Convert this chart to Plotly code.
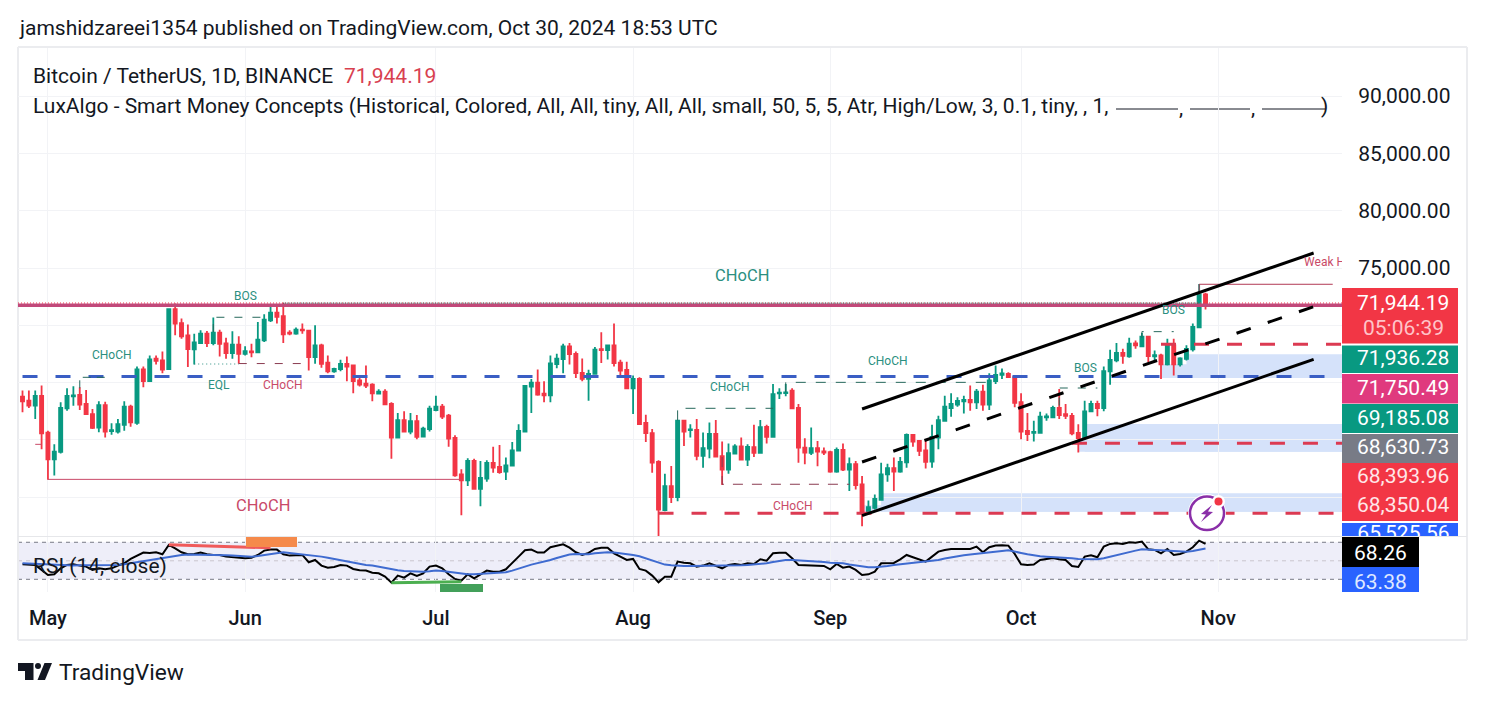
import pandas as pd
import plotly.graph_objects as go

W, H = 1485, 702

dates = pd.date_range("2024-04-27", "2024-10-30", freq="D")

opens = [63770,63420,62980,63830,
60640,58300,58950,62750,63800,63920,63130,62250,61080,63040,60760,60730,61320,62890,61490,66140,65120,67080,66930,66170,71400,70180,69120,67900,68450,69270,68450,69360,68420,67570,68300,
67510,67720,67630,68680,70440,71110,70790,69360,69270,69620,69530,67220,68250,66730,65970,66170,66640,66490,65180,64910,64820,64040,64210,63130,60200,61730,60730,61640,60290,60940,
62600,62890,62110,60180,56990,56460,58160,55730,56610,57980,57630,57220,57750,59060,60730,64650,65000,64040,63890,66610,67050,68160,67510,65850,65320,65760,67920,67840,68250,66730,66110,
64500,65320,61490,60590,58070,53860,55970,55000,61670,60850,60880,58600,59240,60530,58570,57400,58800,59440,58280,59360,58860,61140,60260,64060,64090,64300,62780,59330,58860,59270,59000,
58920,57220,59120,57400,57870,56110,53770,54060,54770,56990,57540,57220,58040,60440,59910,59090,58100,60200,61670,62780,63070,63360,63480,63280,64210,63070,65120,65670,65760,65470,
63300,60790,60610,60610,61960,61960,62780,62250,62100,60610,60150,62490,63130,62780,65970,66930,67600,67280,68420,68160,69010,67280,67370,66580,68250,66580,67080,67900,69830,72690]
highs = [64300,64300,64300,64740,
60790,59620,63280,64500,64680,64590,64360,62690,63360,63330,61460,61810,63360,63070,66400,66400,67370,67370,67720,71460,71900,70590,70060,69270,69560,69500,70670,69620,68920,69470,69040,
68160,68390,70290,70970,71610,71610,71960,69560,69800,70150,69560,70000,68390,67370,66290,66990,67280,66490,65530,66490,64940,64420,64420,63280,62340,62490,62340,62160,61140,62980,
63860,63130,62250,60410,57430,58390,58360,58160,58220,59390,59560,58450,59820,61370,64770,65320,66140,65120,67370,67510,68390,68450,67720,67110,66110,68100,69390,68300,70150,66990,66810,
65610,65470,62190,60940,58220,57050,57720,61730,61670,61370,61810,60640,61520,61730,59850,59680,59620,60200,59620,61320,61730,61320,64880,64500,64880,64500,63130,60150,61080,59910,59330,
59040,59330,59680,58450,58160,56840,54710,55230,58010,57920,58450,58510,60560,60500,59970,60060,61320,62110,63860,64060,63710,63860,64740,64440,64800,65820,66490,66230,65910,65610,
64060,62340,61670,62460,62310,62980,64440,63130,62340,61370,63420,63420,63420,66400,67870,68450,67950,68920,68680,69330,69040,67810,67520,68830,68830,67220,68250,70150,73600,72840]
lows = [62400,62780,61810,59180,
56520,56900,58800,62540,62980,62600,62190,60940,60670,60200,60440,60560,60790,61140,61320,64590,65120,66580,65820,66110,69120,68830,66350,66580,68390,68100,68250,67280,67080,67080,66640,
67370,67220,67600,68540,70290,70150,68450,69120,69180,69270,66050,66640,66290,65820,65850,65990,65120,64060,64650,64530,63360,63950,63040,58360,60150,60640,60500,60060,60200,60730,
62490,61810,59390,56780,53420,55970,55670,54210,56350,57130,57050,56490,57720,59040,60670,62340,63860,63280,63280,66260,65820,66580,65410,65120,63420,65700,66700,67020,66400,65610,64500,
62250,61290,59820,57130,51500,53770,54500,54650,59470,60200,58220,57570,58390,58450,56050,57050,58740,58220,57720,58510,58800,59680,60260,63570,63800,62690,58010,57870,58680,57690,58680,
57130,57130,57280,55530,55670,52460,53480,53920,54710,56350,55530,57130,57570,59390,58600,57510,57570,59180,61580,62020,62890,62310,62540,62690,62540,62600,64880,65320,65470,62840,
60060,59910,59850,60560,61670,61900,61810,61810,60410,58890,60060,62400,62050,62490,64800,66780,66640,67160,67950,68100,66780,66870,65320,66490,65610,66400,66930,67720,69800,71370]
closes = [63360,62980,63830,60560,
58300,58980,62780,63830,63890,63070,62250,61050,63040,60730,60850,61370,62890,61520,66140,65120,67020,66900,66140,71400,70150,69040,67920,68510,69270,68450,69360,68390,67570,68300,67510,
67750,67630,68740,70500,71110,70730,69210,69270,69620,69560,67220,68250,66640,65990,66200,66640,66400,65120,64820,64740,64060,64210,63100,60200,61730,60730,61640,60260,60970,62720,
62890,62020,60120,56900,56460,58160,55730,56670,57980,57570,57190,57780,59090,60790,64710,65000,63950,63890,66670,67080,68160,67490,65820,65320,65760,67870,67840,68250,66700,66050,64500,
65320,61370,60590,58010,53920,55970,55000,61670,60730,60910,58600,59270,60530,58540,57400,58830,59440,58280,59390,58860,61110,60260,64000,64120,64150,62750,59330,58890,59270,58980,58890,
57220,59120,57400,57870,56050,53770,54120,54850,56990,57540,57220,58070,60440,59850,59040,58070,60260,61730,62890,63130,63390,63480,63280,64210,63070,65180,65670,65790,65470,63220,
60730,60500,60700,62020,62050,62780,62160,62100,60560,60150,62490,63130,62780,65990,66990,67600,67340,68390,68250,69010,67310,67400,66580,68250,66580,67110,67950,69850,72690,71944.19]

rsi = [46.2,45.5,45.5,40.1,
34.7,35.4,41.9,45.5,46.2,44.8,43.7,40.1,41.9,40.8,41.9,44.8,47.3,52,55.6,58.9,58.5,59.2,57,67.1,63.5,59.2,57,57.4,58.9,57,56.3,56.3,54.5,53.8,52.7,
52.7,53.4,56.3,61,62.1,62.1,57,55.6,55.6,56.3,48.4,50.9,44.8,42.6,43.4,45.5,44.8,41.2,39.8,39.4,37.2,36.5,32.9,26.4,34,31.8,36.5,33.6,36.5,43.7,
44.8,41.9,35.4,30.4,28.6,35.4,31.1,35.4,39.4,38.3,38.3,40.8,47.3,54.5,61.4,62.1,58.9,58.9,64.6,66,67.8,64.2,59.2,56.3,58.5,62.8,64.2,64.2,58.1,54.5,50.9,
52,41.2,39.4,34,26.8,32.9,32.9,49.1,48,47.3,43.7,44.8,47.3,44.4,41.9,45.5,46.6,45.5,47.3,46.6,51.6,50.2,58.1,58.8,58.8,52.7,45.5,45.2,45.2,45.2,44.4,
40.8,46.6,42.6,43.7,40.1,34.7,35.4,38.3,47.3,47.7,47.7,51.6,56.3,53.8,51.6,49.1,54.5,59.9,61.7,62.8,62.8,63.2,62.8,65.3,59.2,64.6,66.4,66.8,66.4,57.4,
46.2,45.5,45.9,50.9,51.6,53.1,51.6,50.9,44.4,43.4,54.5,56,53.8,65.3,68.2,68.9,68.2,70,69.6,70.7,62.4,61.7,58.1,62.8,56.3,57.4,59.9,64.6,71.8,68.26]
rsi_ma = [47.3,47,46.6,46.2,
45.5,45.2,44.8,44.8,44.8,45.2,45.2,44.8,44.8,44.8,45.2,45.5,46.2,47.3,48.4,49.5,50.9,52,53.4,54.5,55.6,56.3,56.7,56.7,56.7,56.7,56.3,56.3,56,55.6,55.2,
54.5,54.5,55.2,56.3,57.4,58.9,59.2,58.5,57.8,57,56.3,55.6,54.5,53.4,52,50.6,49.1,47.7,46.6,45.5,44.8,43.4,41.9,40.5,39.8,39,38.7,38.3,38.3,38.7,
39.4,39,38,37.2,36.2,35.4,35.4,35.8,36.5,36.9,36.9,37.6,39.4,41.2,43.7,45.9,47.3,49.1,50.9,53.1,55.2,56.7,57.4,57,57,58.1,58.9,59.2,58.9,58.1,57.4,
56.3,54.9,52.7,50.6,48,45.9,45.2,44.4,44.4,44.4,44.4,44.4,44.4,44.4,44.4,44.8,45.2,45.2,45.5,45.9,46.6,47.3,48.7,50.2,50.9,50.9,50.6,50.2,49.8,49.5,48.7,
48,47.7,47.3,45.9,44.8,43.7,43,43,43.4,44.4,45.5,46.2,47,48,48.7,49.1,49.8,50.9,52.4,53.8,54.9,56,56.7,57.4,57.7,58.5,59.6,60.6,61.4,60.3,
58.5,57,55.6,54.9,54.5,54.2,53.8,53.8,52.7,52,51.6,51.6,51.6,52.7,54.5,56,57.4,59.2,61,62.4,62.4,61.7,61.4,61,60.6,60.3,59.9,60.6,61.7,63.38]

price_ticks = [55000, 60000, 65000, 70000, 75000, 80000, 85000, 90000]
price_labels = ["", "", "", "", "75,000.00", "80,000.00", "85,000.00", "90,000.00"]
month_ticks = ["2024-05-01", "2024-06-01", "2024-07-01", "2024-08-01", "2024-09-01", "2024-10-01", "2024-11-01"]
month_labels = ["May", "Jun", "Jul", "Aug", "Sep", "Oct", "Nov"]

green = "#089981"
red = "#F23645"
blue_dash = "#3a5ec4"
red_dash = "#dc3a52"
zone = "#d5e2fa"
grid = "#f2f3f6"
ink = "#131722"
label_green = "#2b8f80"
label_red = "#c94a68"

# demand zones: start date, top, bottom
zones = [
    ("2024-10-27", 67470, 65400), ("2024-10-23", 66600, 65400),
    ("2024-10-11", 61380, 58970), ("2024-10-10", 60000, 58970),
    ("2024-09-09", 55340, 53730), ("2024-09-06", 54300, 53730),
]
# dashed levels: start date, price, colour
levels = [
    ("2024-04-27", 65525.56, blue_dash),
    ("2024-08-05", 53590, red_dash),
    ("2024-10-09", 59700, red_dash),
    ("2024-10-23", 68350.04, red_dash),
]
level_end = "2024-11-20 11:00"
# structure segments: x list, y list, colour, dash
segments = [
    (["2024-05-01", "2024-07-05"], [56552, 56552], label_red, "solid"),
    (["2024-04-29", "2024-04-30"], [59610, 59610], label_red, "solid"),
    (["2024-05-06", "2024-05-06", "2024-05-10"], [64500, 65460, 65460], "#26685c", "8px,6px"),
    (["2024-05-27", "2024-05-27", "2024-06-04"], [69400, 70700, 70700], "#26685c", "8px,10px"),
    (["2024-05-24", "2024-05-31"], [66620, 66620], label_green, "1px,3px"),
    (["2024-05-31", "2024-06-11"], [66660, 66660], "#8a3b50", "8px,10px"),
    (["2024-06-07", "2024-10-29"], [71936.28, 71936.28], "#26685c", "1px,1px"),
    (["2024-08-08", "2024-08-08", "2024-08-23"], [61700, 62755, 62755], "#26685c", "10px,10px"),
    (["2024-08-25", "2024-08-25", "2024-09-26"], [64150, 65020, 65020], "#26685c", "10px,10px"),
    (["2024-08-15", "2024-08-15", "2024-09-04"], [58500, 56125, 56125], "#8a3b50", "10px,9px"),
    (["2024-10-07", "2024-10-07", "2024-10-13"], [63000, 64526, 64526], "#26685c", "8px,10px"),
    (["2024-10-20", "2024-10-20", "2024-10-25"], [68900, 69445, 69445], "#26685c", "8px,10px"),
    (["2024-10-29", "2024-10-29", "2024-11-19"], [72700, 73580, 73580], "#b23a55", "solid"),
]
channel_x = ["2024-09-06", "2024-11-16"]
channel_upper = [62694, 76309]
channel_middle = [58068, 71622]
channel_lower = [53381, 67031]


def fx(x):
    return x / W


def fy(y):
    return 1 - y / H


def path(points):
    return "M" + " L".join(f"{fx(a):.5f},{fy(b):.5f}" for a, b in points) + " Z"


fig = go.Figure()

for start, price, colour in levels:
    fig.add_trace(go.Scatter(x=[start, level_end], y=[price, price], mode="lines",
                             line=dict(color=colour, width=3, dash="15px,18px")))

fig.add_trace(go.Candlestick(
    x=dates, open=opens, high=highs, low=lows, close=closes,
    increasing=dict(line=dict(color=green, width=1.8), fillcolor=green),
    decreasing=dict(line=dict(color=red, width=1.8), fillcolor=red),
    whiskerwidth=0))

# last price and the thick resistance level
fig.add_trace(go.Scatter(x=["2024-04-26 07:00", level_end], y=[71944.19, 71944.19], mode="lines",
                         line=dict(color=red, width=1, dash="1px,2px")))
fig.add_trace(go.Scatter(x=["2024-04-26 07:00", level_end], y=[71750.49, 71750.49], mode="lines",
                         line=dict(color="#c2497a", width=3.5)))

for seg_x, seg_y, colour, dash in segments:
    fig.add_trace(go.Scatter(x=seg_x, y=seg_y, mode="lines", line=dict(color=colour, width=1, dash=dash)))

fig.add_trace(go.Scatter(x=channel_x, y=channel_upper, mode="lines", line=dict(color="black", width=3)))
fig.add_trace(go.Scatter(x=channel_x, y=channel_lower, mode="lines", line=dict(color="black", width=3)))
fig.add_trace(go.Scatter(x=channel_x, y=channel_middle, mode="lines",
                         line=dict(color="black", width=3, dash="15px,18px")))

# clipped at the edge of the price pane, as in the original
fig.add_trace(go.Scatter(x=["2024-11-14 12:00"], y=[75436], mode="text", text=["Weak High"],
                         textposition="middle right", textfont=dict(family="Roboto", size=12, color=label_red),
                         cliponaxis=True))

fig.add_trace(go.Scatter(x=dates, y=rsi, mode="lines", xaxis="x2", yaxis="y2",
                         line=dict(color="black", width=2)))
fig.add_trace(go.Scatter(x=dates, y=rsi_ma, mode="lines", xaxis="x2", yaxis="y2",
                         line=dict(color="#3f6bd0", width=2)))
fig.add_trace(go.Scatter(x=["2024-05-20", "2024-06-05"], y=[67.3, 64], mode="lines", xaxis="x2", yaxis="y2",
                         line=dict(color="#f05a5a", width=3)))
fig.add_trace(go.Scatter(x=["2024-06-24", "2024-07-05"], y=[26.3, 27.4], mode="lines", xaxis="x2", yaxis="y2",
                         line=dict(color="#4caf50", width=3)))

# bottom tag of the price scale is cut by the pane edge
fig.add_trace(go.Scatter(x=[0.53], y=[534.5], mode="text", text=["65,525.56"], xaxis="x3", yaxis="y3",
                         textfont=dict(family="Roboto", size=21, color="white"), cliponaxis=True))

shapes = []
for start, top, bottom in zones:
    shapes.append(dict(type="rect", xref="x", yref="y", x0=start, x1=level_end, y0=bottom, y1=top,
                       fillcolor=zone, line_width=0, layer="below"))

# RSI band and its levels
shapes.append(dict(type="rect", xref="x2 domain", yref="y2", x0=0, x1=1, y0=30, y1=70,
                   fillcolor="#eeeef9", line_width=0, layer="below"))
for level, colour in [(70, "#787b86"), (50, "#c9c5ce"), (30, "#787b86")]:
    shapes.append(dict(type="line", xref="x2 domain", yref="y2", x0=0, x1=1, y0=level, y1=level,
                       line=dict(color=colour, width=1, dash="4px,4px"), layer="below"))


def box(x0, y0, x1, y1, colour, layer="below"):
    shapes.append(dict(type="rect", xref="paper", yref="paper", x0=fx(x0), x1=fx(x1), y0=fy(y1), y1=fy(y0),
                       fillcolor=colour, line_width=0, layer=layer))


def rule(x0, y0, x1, y1, colour, width=1):
    shapes.append(dict(type="line", xref="paper", yref="paper", x0=fx(x0), x1=fx(x1), y0=fy(y0), y1=fy(y1),
                       line=dict(color=colour, width=width), layer="below"))


# frame
rule(18, 47, 1467, 47, "#ebecef", 2)
rule(18, 640, 1467, 640, "#ebecef", 2)
rule(18, 47, 18, 640, "#ebecef", 2)
rule(1467, 47, 1467, 640, "#ebecef", 2)
rule(18, 536.5, 1467, 536.5, "#e6e7ea", 1)

# orange and green pivot tags on the RSI pane
box(246, 537, 297, 547, "#f58a4b", "above")
box(440, 584, 483, 592, "#43a05a", "above")

# price tags
box(1342, 288, 1458, 343.5, red)
box(1342, 345.5, 1458, 373, green)
box(1342, 374, 1458, 403.5, "#e03a7e")
box(1342, 404, 1458, 433, green)
box(1342, 434, 1458, 463, "#787b86")
box(1342, 463, 1458, 493, red)
box(1342, 493, 1458, 521, red)
box(1342, 523, 1458, 536, "#2962ff")
box(1342, 537, 1419, 567, "black")
box(1342, 567, 1419, 592, "#2962ff")

# legend line samples
for a, b in [(1116, 1178), (1190, 1250), (1262, 1325)]:
    rule(a, 109, b, 109, ink, 1)

# alert badge
shapes.append(dict(type="circle", xref="paper", yref="paper", x0=fx(1188), x1=fx(1226), y0=fy(532), y1=fy(494),
                   fillcolor="white", line_width=0, layer="above"))
shapes.append(dict(type="circle", xref="paper", yref="paper", x0=fx(1190), x1=fx(1224), y0=fy(530), y1=fy(496.5),
                   fillcolor="white", line=dict(color="#8a2fa8", width=2.5), layer="above"))
shapes.append(dict(type="path", xref="paper", yref="paper", layer="above", line_width=0, fillcolor="#8a2fa8",
                   path=path([(1212, 505), (1201, 514), (1206, 514.5), (1201, 522), (1213, 512), (1208, 511.5)])))
shapes.append(dict(type="circle", xref="paper", yref="paper", x0=fx(1212), x1=fx(1225), y0=fy(508), y1=fy(495),
                   fillcolor="white", line_width=0, layer="above"))
shapes.append(dict(type="circle", xref="paper", yref="paper", x0=fx(1214.5), x1=fx(1222.5), y0=fy(505.5), y1=fy(497.5),
                   fillcolor="#f23645", line_width=0, layer="above"))

# TradingView logo
shapes.append(dict(type="path", xref="paper", yref="paper", line_width=0, fillcolor=ink,
                   path=path([(18, 663), (33.5, 663), (33.5, 680), (25, 680), (25, 671), (18, 671)])))
shapes.append(dict(type="path", xref="paper", yref="paper", line_width=0, fillcolor=ink,
                   path=path([(44.5, 663), (52, 663), (45, 680), (37.5, 680)])))
shapes.append(dict(type="circle", xref="paper", yref="paper", x0=fx(35), x1=fx(41), y0=fy(669), y1=fy(663),
                   fillcolor=ink, line_width=0))

notes = []


def note(text, x, y, size, colour=ink, anchor="left", weight="normal"):
    notes.append(dict(text=text, xref="paper", yref="paper", x=fx(x), y=fy(y), xanchor=anchor, yanchor="middle",
                      showarrow=False, align=anchor, borderpad=0,
                      font=dict(family="Roboto", size=size, color=colour, weight=weight)))


note("jamshidzareei1354 published on TradingView.com, Oct 30, 2024 18:53 UTC", 18, 28, 21)
note("Bitcoin / TetherUS, 1D, BINANCE", 32, 76, 21)
note("71,944.19", 343, 76, 21, "#d8404f")
note("LuxAlgo - Smart Money Concepts (Historical, Colored, All, All, tiny, All, All, small, 50, 5, 5, Atr, High/Low, 3, 0.1, tiny, , 1,",
     32, 106, 21)
note(",", 1178, 108, 21)
note(",", 1250, 108, 21)
note(")", 1320, 106, 21)
note("RSI (14, close)", 32, 566, 21)
note("TradingView", 58, 672, 22.7)

note("CHoCH", 742, 276, 16.5, label_green, "center")
note("CHoCH", 263, 505, 16.5, label_red, "center")
note("CHoCH", 112, 355, 12, label_green, "center")
note("BOS", 245, 296, 12, label_green, "center")
note("EQL", 219, 385, 12, label_green, "center")
note("CHoCH", 283, 385, 12, label_red, "center")
note("CHoCH", 730, 387, 12, label_green, "center")
note("CHoCH", 888, 361, 12, label_green, "center")
note("CHoCH", 793, 506, 12, label_red, "center")
note("BOS", 1085, 368, 12, label_green, "center")
note("BOS", 1173, 310, 12, label_green, "center")

note("71,944.19", 1403, 303, 21, "white", "center")
note("05:06:39", 1403, 328, 21, "#ffc4c9", "center")
note("71,936.28", 1403, 358, 21, "white", "center")
note("71,750.49", 1403, 388, 21, "white", "center")
note("69,185.08", 1403, 418, 21, "white", "center")
note("68,630.73", 1403, 447, 21, "white", "center")
note("68,393.96", 1403, 476, 21, "#ffe6e8", "center")
note("68,350.04", 1403, 505, 21, "#ffe6e8", "center")
note("68.26", 1380, 553, 21, "white", "center")
note("63.38", 1380, 582, 21, "#dfe8ff", "center")

x_range = ["2024-04-26 07:00", "2024-11-20 11:00"]
x_domain = [fx(18), fx(1342)]

fig.update_layout(
    width=W, height=H, autosize=False,
    margin=dict(l=0, r=0, t=0, b=0),
    paper_bgcolor="white", plot_bgcolor="rgba(0,0,0,0)",
    showlegend=False, hovermode=False,
    font=dict(family="Roboto", color=ink),
    shapes=shapes, annotations=notes,
    xaxis=dict(domain=x_domain, range=x_range, type="date", anchor="y", rangeslider=dict(visible=False),
               tickvals=month_ticks, showticklabels=False, ticks="", showgrid=True, gridcolor=grid,
               gridwidth=1, zeroline=False, showline=False),
    yaxis=dict(domain=[fy(536), fy(48)], range=[51609, 94202], side="right", anchor="x",
               tickvals=price_ticks, ticktext=price_labels, ticks="outside", ticklen=11,
               tickcolor="rgba(0,0,0,0)", tickfont=dict(family="Roboto", size=21, color=ink),
               showgrid=True, gridcolor=grid, gridwidth=1, zeroline=False, showline=False),
    xaxis2=dict(domain=x_domain, range=x_range, type="date", anchor="y2", matches="x",
                tickvals=month_ticks, ticktext=month_labels, ticks="outside", ticklen=8,
                tickcolor="rgba(0,0,0,0)", tickfont=dict(family="Roboto", size=20, color=ink, weight=500),
                showgrid=True, gridcolor=grid, gridwidth=1, zeroline=False, showline=False),
    yaxis2=dict(domain=[fy(592), fy(537)], range=[16.3, 75.7], side="right", anchor="x2",
                showticklabels=False, ticks="", showgrid=False, zeroline=False, showline=False),
    xaxis3=dict(domain=[fx(1342), fx(1458)], range=[0, 1], anchor="y3", visible=False, fixedrange=True),
    yaxis3=dict(domain=[fy(536), fy(523)], range=[536, 523], anchor="x3", visible=False, fixedrange=True),
)

# the page margin would otherwise push the whole figure away from the corner
fig.write_html("out.html", config=dict(displayModeBar=False), post_script="document.body.style.margin='0';")
